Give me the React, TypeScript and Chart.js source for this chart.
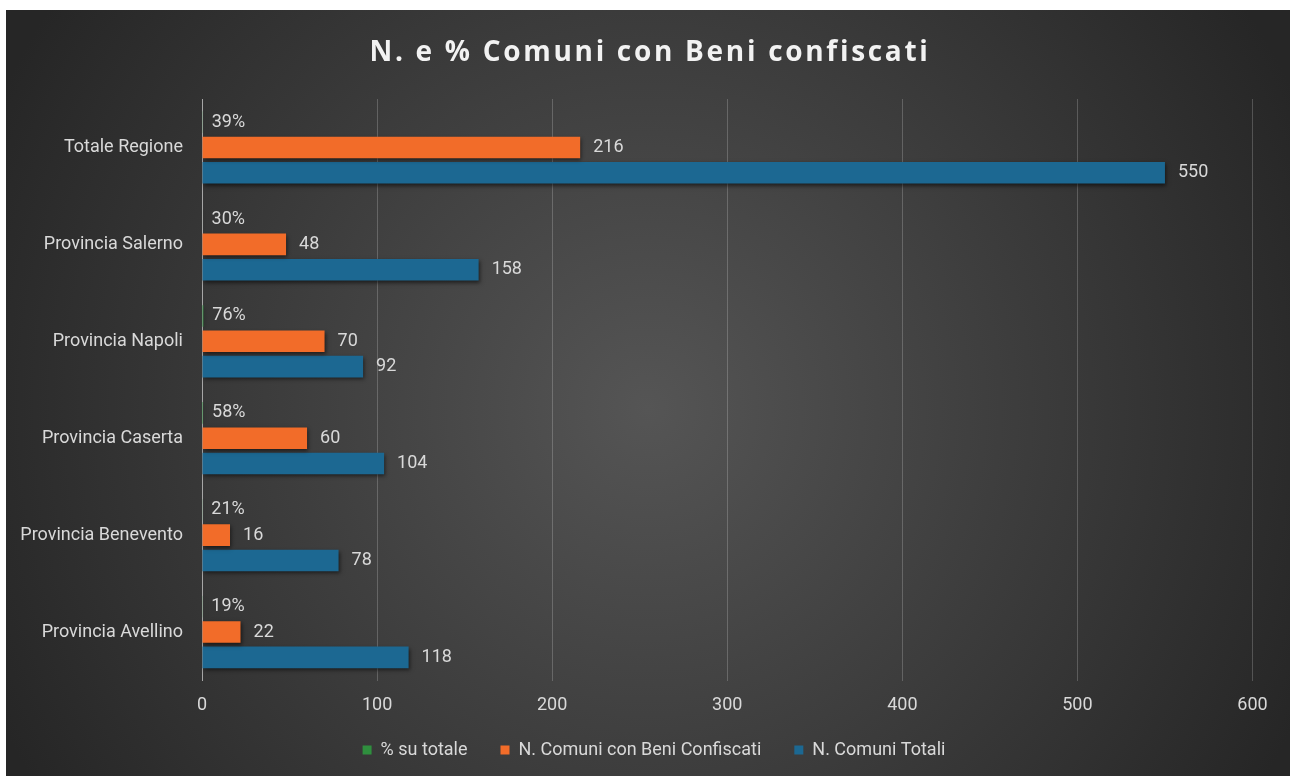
import React, { useEffect, useRef } from "react";
import { Chart, registerables } from "chart.js";

Chart.register(...registerables);

const titleText = "N. e % Comuni con Beni confiscati";
const categories = [
  "Totale Regione",
  "Provincia Salerno",
  "Provincia Napoli",
  "Provincia Caserta",
  "Provincia Benevento",
  "Provincia Avellino",
];
const seriesLabels = ["% su totale", "N. Comuni con Beni Confiscati", "N. Comuni Totali"];
const pctSuTotale = [0.39, 0.3, 0.76, 0.58, 0.21, 0.19];
const comuniConBeni = [216, 48, 70, 60, 16, 22];
const comuniTotali = [550, 158, 92, 104, 78, 118];
const xTicks = [0, 100, 200, 300, 400, 500, 600];

const TEXT = "#d9d9d9";
const FONT = "Roboto";
const FS = 18;

const decorPlugin = {
  id: "decor",
  afterLayout(chart: any) {
    const lg = chart.legend;
    if (!lg) return;
    lg.left = 49.5;
    lg.right = 1246.5;
    lg.width = lg.right - lg.left;
    lg.top = 698;
    lg.bottom = lg.top + lg.height;
  },
  beforeDatasetsDraw(chart: any) {
    const ctx = chart.ctx;
    ctx.save();
    ctx.shadowColor = "rgba(0,0,0,0.55)";
    ctx.shadowBlur = 4;
    ctx.shadowOffsetX = 1;
    ctx.shadowOffsetY = 2;
  },
  afterDatasetsDraw(chart: any) {
    const ctx = chart.ctx;
    ctx.restore();
    ctx.save();
    ctx.font = `${FS}px ${FONT}`;
    ctx.fillStyle = TEXT;
    ctx.textBaseline = "middle";
    ctx.textAlign = "left";
    chart.data.datasets.forEach((ds: any, di: number) => {
      const meta = chart.getDatasetMeta(di);
      meta.data.forEach((bar: any, i: number) => {
        const v = ds.data[i];
        const txt = di === 0 ? `${Math.round(v * 100)}%` : String(v);
        ctx.fillText(txt, bar.x + (di === 0 ? 9 : 13), bar.y);
      });
    });
    ctx.restore();
  },
  afterDraw(chart: any) {
    const ctx = chart.ctx;
    ctx.save();
    ctx.font = `bold 28px "Open Sans"`;
    (ctx as any).letterSpacing = "2.7px";
    ctx.fillStyle = "#f2f2f2";
    ctx.textAlign = "center";
    ctx.textBaseline = "middle";
    ctx.fillText(titleText, 644, 43);
    ctx.restore();
  },
};

export default function App() {
  const ref = useRef<HTMLCanvasElement | null>(null);

  useEffect(() => {
    if (!ref.current) return;
    const chart = new Chart(ref.current, {
      type: "bar",
      data: {
        labels: categories,
        datasets: [
          {
            label: seriesLabels[0],
            data: pctSuTotale,
            backgroundColor: "#2f8f3e",
            borderWidth: 0,
          },
          {
            label: seriesLabels[1],
            data: comuniConBeni,
            backgroundColor: "#f26c29",
            borderWidth: 0,
          },
          {
            label: seriesLabels[2],
            data: comuniTotali,
            backgroundColor: "#1c6892",
            borderWidth: 0,
          },
        ],
      },
      options: {
        indexAxis: "y",
        animation: false,
        responsive: true,
        maintainAspectRatio: false,
        datasets: {
          bar: { categoryPercentage: 0.785, barPercentage: 0.85 },
        },
        layout: { padding: { top: 89, bottom: 0, left: 0, right: 37.5 } },
        scales: {
          x: {
            type: "linear",
            min: 0,
            max: 600,
            afterBuildTicks: (s: any) => {
              s.ticks = xTicks.map((v) => ({ value: v }));
            },
            afterFit: (s: any) => {
              s.height = 34.5;
            },
            grid: {
              drawTicks: false,
              color: (c: any) => (c.tick && c.tick.value === 0 ? "rgba(0,0,0,0)" : "rgba(255,255,255,0.2)"),
              lineWidth: 1,
            },
            border: { display: false },
            ticks: {
              color: TEXT,
              padding: 14,
              font: { family: FONT, size: FS },
              maxRotation: 0,
            },
          },
          y: {
            type: "category",
            afterFit: (s: any) => {
              s.width = 196;
            },
            grid: { display: false, drawTicks: false },
            border: { display: true, color: "#a6a6a6", width: 1 },
            ticks: {
              color: TEXT,
              padding: 19,
              font: { family: FONT, size: FS },
            },
          },
        },
        plugins: {
          title: { display: false },
          tooltip: { enabled: false },
          legend: {
            display: true,
            position: "bottom",
            labels: {
              color: TEXT,
              boxWidth: 9,
              boxHeight: 9,
              padding: 33,
              font: { family: FONT, size: FS },
            },
          },
        },
      },
      plugins: [decorPlugin],
    } as any);
    return () => chart.destroy();
  }, []);

  return (
    <div
      style={{
        position: "absolute",
        left: 6,
        top: 10,
        width: 1284,
        height: 766,
        background: "radial-gradient(circle 720px at 50% 52%, #555555 0%, #262626 100%)",
      }}
    >
      <canvas ref={ref} />
    </div>
  );
}
